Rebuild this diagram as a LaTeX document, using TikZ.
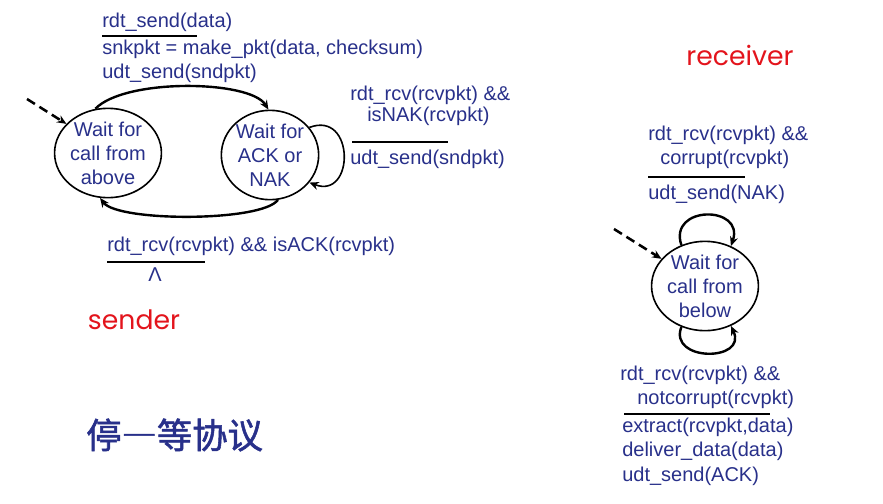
\documentclass[tikz,border=0pt]{standalone}
\usepackage{fontspec}
\setmainfont{Liberation Sans}
\newfontfamily\cjkfont{Noto Sans CJK SC}[RawFeature=+fwid,FakeBold=1.5]
\newfontfamily\tagfont{Poppins}
\usetikzlibrary{arrows.meta,shapes.geometric,positioning}
\definecolor{cTxt}{HTML}{28308A}
\definecolor{cTag}{HTML}{E3141C}
\tikzset{
  state/.style={ellipse,draw=black,line width=1.2pt,inner sep=0pt,minimum width=73pt,minimum height=67pt,align=center,text=cTxt,font=\fontsize{15}{18}\selectfont},
  act/.style={anchor=west,inner sep=0pt,text=cTxt,font=\fontsize{15}{18}\selectfont},
  rule/.style={line width=1.5pt},
  trans/.style={-{Stealth[length=7pt,width=6pt]},line width=1.8pt},
  init/.style={-{Stealth[length=7pt,width=6pt]},line width=1.9pt,dash pattern=on 7pt off 4pt},
  tag/.style={inner sep=0pt,text=cTag,font=\tagfont\fontsize{20}{24}\selectfont},
}
\begin{document}
\begin{tikzpicture}[x=0.75pt,y=-0.75pt]
  \useasboundingbox (0,0) rectangle (883,504);
  % sender states
  \node[state] (wa) at (108,153) {Wait for\\call from\\above};
  \node[state] (wk) at (270,155) {Wait for\\ACK or\\NAK};
  \coordinate (sin) at (27,99);
  \draw[init] (sin) -- (wa.145);
  \draw[trans] (wa.106) .. controls (125,78) and (250,80) .. (wk.92);
  \draw[trans] (wk.-80) .. controls (262,222) and (118,222) .. (wa.-100);
  \draw[trans,line width=1.2pt] (wk.35) .. controls (355,110) and (355,200) .. (wk.-35);
  % sender actions
  \node[act] (t1) at (102,22) {rdt\_send(data)};
  \node[act] (t2) at (102,49) {snkpkt = make\_pkt(data, checksum)};
  \node[act] (t3) at (102,73) {udt\_send(sndpkt)};
  \draw[rule] (t1.south west) ++(0,4.6) -- ++(95,0);
  \node[act] (n1) at (350,95) {rdt\_rcv(rcvpkt) \&\&};
  \node[act] (n2) at (367,116) {isNAK(rcvpkt)};
  \node[act] (n3) at (350,159) {udt\_send(sndpkt)};
  \draw[rule] (n3.north west) ++(2,-7.6) -- ++(96,0);
  \node[act] (a1) at (107,246) {rdt\_rcv(rcvpkt) \&\& isACK(rcvpkt)};
  \draw[rule] (a1.south west) ++(0,6.6) -- ++(98,0);
  \node[act,anchor=center] (a2) at (155,275) {Λ};
  \node[tag] (snd) at (134,320) {sender};
  \node[inner sep=0pt,anchor=west,text=cTxt,font=\cjkfont\fontsize{26.5}{30}\selectfont] (ttl) at (86,435) {停—等协议};
  % receiver
  \node[tag] (rcv) at (740,55) {receiver};
  \node[state] (rw) at (705,286) {Wait for\\call from\\below};
  \coordinate (rin) at (614,229);
  \draw[init] (rin) -- (rw.148);
  \draw[trans] (rw.120) .. controls (668,205) and (745,205) .. (rw.57);
  \draw[trans] (rw.-120) .. controls (668,362) and (748,362) .. (rw.-57);
  \node[act] (c1) at (648,135) {rdt\_rcv(rcvpkt) \&\&};
  \node[act] (c2) at (660,159) {corrupt(rcvpkt)};
  \node[act] (c3) at (648,194) {udt\_send(NAK)};
  \draw[rule] (c3.north west) ++(0,-7.6) -- ++(97,0);
  \node[act] (r1) at (620,375) {rdt\_rcv(rcvpkt) \&\&};
  \node[act] (r2) at (637,399) {notcorrupt(rcvpkt)};
  \node[act] (r3) at (622,427) {extract(rcvpkt,data)};
  \node[act] (r4) at (622,451) {deliver\_data(data)};
  \node[act] (r5) at (622,476) {udt\_send(ACK)};
  \draw[rule] (r3.north west) ++(2,-3.6) -- ++(146,0);
\end{tikzpicture}
\end{document}
